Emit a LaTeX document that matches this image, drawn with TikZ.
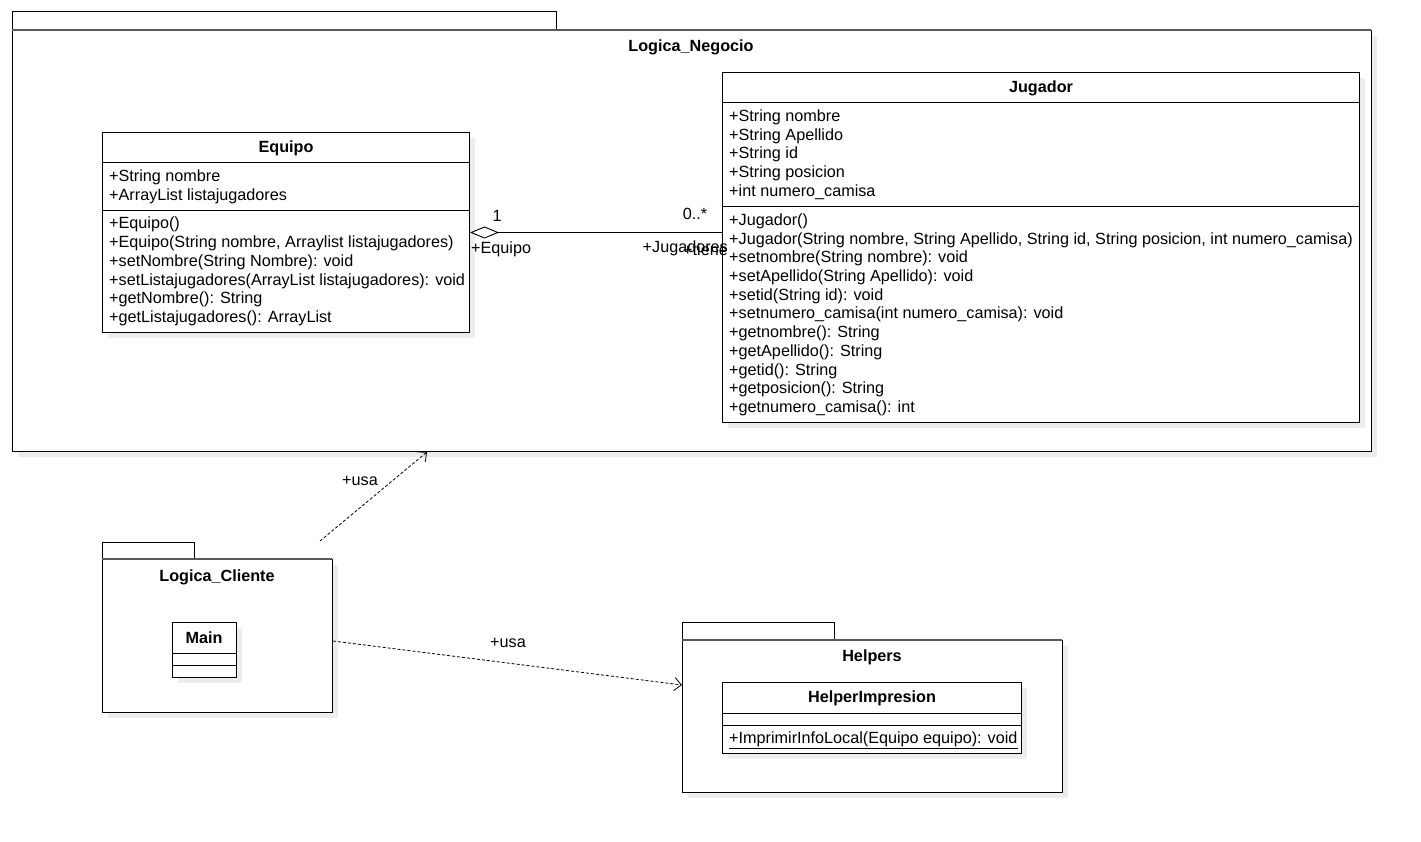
\documentclass[tikz,border=0pt]{standalone}
\usepackage{fontspec}
\setmainfont{Liberation Sans}
\usetikzlibrary{arrows.meta}
\begin{document}
\begin{tikzpicture}[x=1pt,y=-1pt,
  every node/.style={font=\fontsize{16.2}{19}\selectfont},
  box/.style={draw=black, line width=1pt, fill=white, anchor=north west, inner sep=0pt},
  pkgtab/.style={draw=black, line width=1pt, fill=white},
  ttl/.style={font=\fontsize{16.2}{19}\selectfont\bfseries, inner sep=0pt},
  mem/.style={anchor=west, inner sep=0pt},
  lbl/.style={inner sep=0pt},
  dep/.style={densely dashed, line width=0.8pt, -{Straight Barb[length=7pt,width=13pt]}},
  divider/.style={line width=1pt}
]
\useasboundingbox (0,0) rectangle (1421,842);
\fill[white] (0,0) rectangle (1421,842);

% ===== Logica_Negocio package =====
\fill[black!7] (18,36) rectangle (1377,457);
\draw[pkgtab] (12,12) rectangle (556,30);
\node[box, minimum width=1359pt, minimum height=421pt] (ln) at (12,30) {};
\draw[black!65, line width=1.6pt] (12,30) -- (1371,30);
\node[ttl] at (691,47) {Logica\_Negocio};

% ===== Equipo =====
\fill[black!7] (108,138) rectangle (475,338);
\node[box, minimum width=367pt, minimum height=200pt] (eq) at (102,132) {};
\draw[divider] (102,163) -- (469,163);
\draw[divider] (102,211) -- (469,211);
\node[ttl] at (286,148) {Equipo};
\node[mem] at (109,177) {+String nombre};
\node[mem] at (109,196) {+ArrayList listajugadores};
\node[mem] at (109,224) {+Equipo()};
\node[mem] at (109,243) {+Equipo(String nombre, Arraylist listajugadores)};
\node[mem] at (109,262) {+setNombre(String Nombre): void};
\node[mem] at (109,281) {+setListajugadores(ArrayList listajugadores): void};
\node[mem] at (109,299) {+getNombre(): String};
\node[mem] at (109,318) {+getListajugadores(): ArrayList};

% ===== Jugador =====
\fill[black!7] (728,78) rectangle (1365,428);
\node[box, minimum width=637pt, minimum height=350pt] (jug) at (722,72) {};
\draw[divider] (722,103) -- (1359,103);
\draw[divider] (722,207) -- (1359,207);
\node[ttl] at (1041,88) {Jugador};
\node[mem] at (729,117) {+String nombre};
\node[mem] at (729,136) {+String Apellido};
\node[mem] at (729,154) {+String id};
\node[mem] at (729,173) {+String posicion};
\node[mem] at (729,192) {+int numero\_camisa};
\node[mem] at (729,221) {+Jugador()};
\node[mem] at (729,240) {+Jugador(String nombre, String Apellido, String id, String posicion, int numero\_camisa)};
\node[mem] at (729,258) {+setnombre(String nombre): void};
\node[mem] at (729,277) {+setApellido(String Apellido): void};
\node[mem] at (729,296) {+setid(String id): void};
\node[mem] at (729,314) {+setnumero\_camisa(int numero\_camisa): void};
\node[mem] at (729,333) {+getnombre(): String};
\node[mem] at (729,352) {+getApellido(): String};
\node[mem] at (729,371) {+getid(): String};
\node[mem] at (729,389) {+getposicion(): String};
\node[mem] at (729,408) {+getnumero\_camisa(): int};

% ===== Association =====
\draw[line width=0.9pt, {Diamond[open, length=29pt, width=12pt]}-] (eq.east) -- (eq.east -| jug.west);
\node[lbl] at (497,216) {1};
\node[lbl] at (695,214) {0..*};
\node[lbl, anchor=west] at (471,249) {+Equipo};
\node[lbl, anchor=east] at (728,248) {+Jugadores};
\node[lbl, anchor=east] at (728,250) {+tiene};

% ===== Logica_Cliente =====
\fill[black!7] (108,565) rectangle (338,718);
\draw[pkgtab] (102,542) rectangle (194,559);
\node[box, minimum width=230pt, minimum height=153pt] (lc) at (102,559) {};
\draw[black!65, line width=1.6pt] (102,559) -- (332,559);
\node[ttl] at (217,577) {Logica\_Cliente};
\fill[black!7] (178,628) rectangle (242,683);
\node[box, minimum width=64pt, minimum height=55pt] (main) at (172,622) {};
\draw[divider] (172,653) -- (236,653);
\draw[divider] (172,665) -- (236,665);
\node[ttl] at (204,638) {Main};

% ===== Helpers =====
\fill[black!7] (688,646) rectangle (1068,798);
\draw[pkgtab] (682,622) rectangle (834,640);
\node[box, minimum width=380pt, minimum height=152pt] (hp) at (682,640) {};
\draw[black!65, line width=1.6pt] (682,640) -- (1062,640);
\node[ttl] at (872,657) {Helpers};
\fill[black!7] (728,688) rectangle (1027,759);
\node[box, minimum width=299pt, minimum height=71pt] (hi) at (722,682) {};
\draw[divider] (722,713) -- (1021,713);
\draw[divider] (722,725) -- (1021,725);
\node[ttl] at (872,698) {HelperImpresion};
\node[mem] at (729,740) {\underline{+ImprimirInfoLocal(Equipo equipo): void}};

% ===== Dependencies =====
\coordinate (d1s) at (320,541);
\coordinate (d1e) at (427,452);
\draw[dep] (d1s) -- (d1e);
\node[lbl] at (360,481) {+usa};
\coordinate (d2s) at (lc.east |- 0,641);
\coordinate (d2e) at (hp.west |- 0,685);
\draw[dep] (d2s) -- (d2e);
\node[lbl] at (508,643) {+usa};
\end{tikzpicture}
\end{document}
